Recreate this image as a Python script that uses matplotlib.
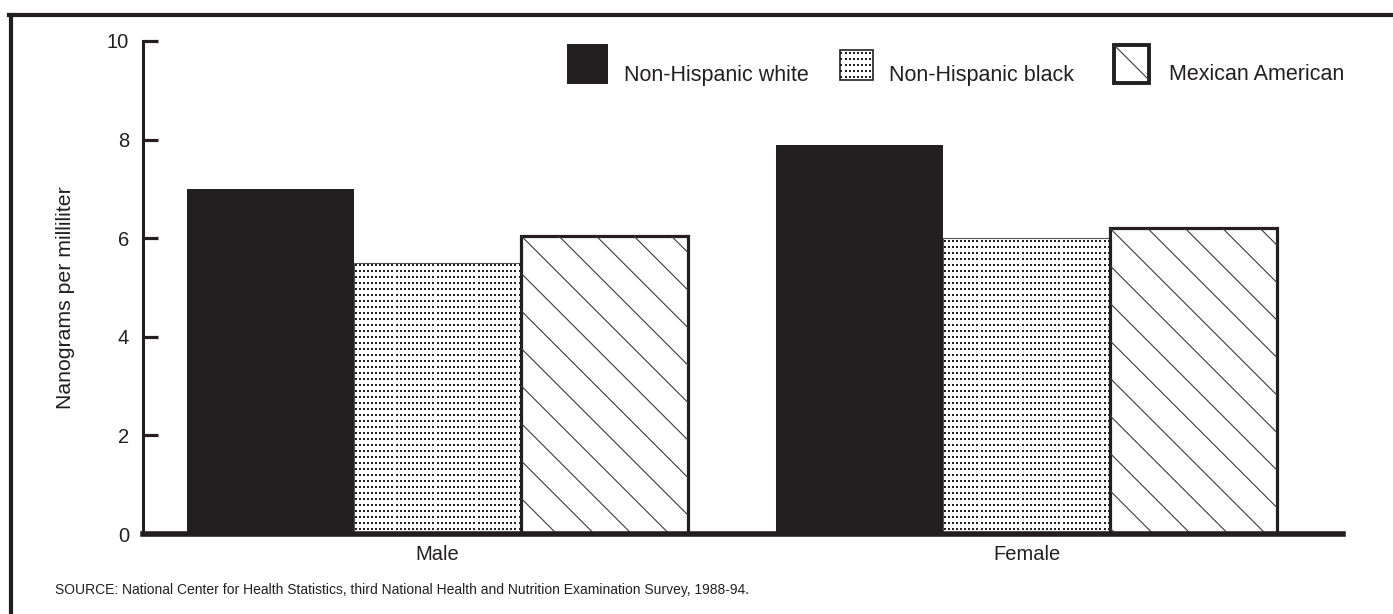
import numpy as np
import matplotlib
matplotlib.use("Agg")
import matplotlib.pyplot as plt
from matplotlib.patches import Rectangle
from matplotlib.collections import LineCollection
from matplotlib.lines import Line2D
from matplotlib.transforms import IdentityTransform

plt.rcParams["font.family"] = ["Liberation Sans", "DejaVu Sans"]

categories = ["Male", "Female"]
series = ["Non-Hispanic white", "Non-Hispanic black", "Mexican American"]
white = [7.0, 7.9]
black = [5.5, 6.0]
mexican = [6.05, 6.2]
yticks = [0, 2, 4, 6, 8, 10]
ylabel = "Nanograms per milliliter"
source = ("SOURCE: National Center for Health Statistics, third National Health "
          "and Nutrition Examination Survey, 1988-94.")

INK = "#231f20"
W, H = 1393, 614


def dot_fill(ax, patch, dx=4.1, dy=6.0, size=2.7, z=2):
    bb = patch.get_window_extent()
    xs = np.arange(bb.x0 + 1.5, bb.x1, dx)
    ys = np.arange(bb.y1 - 2.5, bb.y0, -dy)
    X, Y = np.meshgrid(xs, ys)
    sc = ax.scatter(X.ravel(), Y.ravel(), marker="s", s=size, c=INK,
                    linewidths=0, transform=IdentityTransform(), zorder=z)
    sc.set_clip_path(patch)


def line_fill(ax, patch, step=37.5, z=1.5):
    bb = patch.get_window_extent()
    h = bb.height
    segs = []
    for k in range(-int(h // step) - 1, int(bb.width // step) + 2):
        x = bb.x0 + k * step
        segs.append([(x, bb.y1), (x + h, bb.y0)])
    lc = LineCollection(segs, colors="#3a3a3a", linewidths=0.8,
                        transform=IdentityTransform(), zorder=z)
    ax.add_collection(lc, autolim=False)
    lc.set_clip_path(patch)


fig = plt.figure(figsize=(W / 100, H / 100), dpi=100)
ax = fig.add_axes([143 / W, 1 - 534 / H, 1200 / W, 493 / H])
ax.set_xlim(-0.5, 1.537)
ax.set_ylim(0, 10)
ax.autoscale(False)

x = np.arange(len(categories))
bw = 0.2835
b1 = ax.bar(x - bw, white, bw, color=INK, linewidth=0, zorder=1)
b2 = ax.bar(x, black, bw, color="white", edgecolor="#555555", linewidth=0.8, zorder=1)
b3 = ax.bar(x + bw, mexican, bw, color="white", edgecolor=INK, linewidth=2.3, zorder=1)
for p in b2:
    dot_fill(ax, p)
for p in b3:
    line_fill(ax, p)

for s in ["top", "right"]:
    ax.spines[s].set_visible(False)
ax.spines["left"].set_linewidth(2.2)
ax.spines["left"].set_color(INK)
ax.spines["bottom"].set_linewidth(4)
ax.spines["bottom"].set_color(INK)
ax.spines["bottom"].set_zorder(3)

ax.set_yticks(yticks)
ax.set_yticklabels([str(t) for t in yticks])
ax.tick_params(axis="y", direction="in", length=11, width=2.3, color=INK,
               labelsize=14.5, pad=10, labelcolor=INK)
ax.set_xticks(x)
ax.set_xticklabels(categories)
ax.tick_params(axis="x", length=0, labelsize=14.5, pad=8, labelcolor=INK)
ax.set_ylabel(ylabel, fontsize=15.3, color=INK)
ax.yaxis.set_label_coords(-0.0567, 0.48)

# legend, drawn by hand
def handle_ax(x0, y0, x1, y1):
    a = fig.add_axes([x0 / W, 1 - y1 / H, (x1 - x0) / W, (y1 - y0) / H])
    a.set_xlim(0, 1)
    a.set_ylim(0, 1)
    a.axis("off")
    a.autoscale(False)
    return a

a1 = handle_ax(567, 44, 608, 84)
a1.add_patch(Rectangle((0, 0), 1, 1, color=INK, linewidth=0))
a2 = handle_ax(840, 50, 873, 80)
r2 = Rectangle((0, 0), 1, 1, facecolor="white", edgecolor=INK, linewidth=1.2,
               clip_on=False)
a2.add_patch(r2)
dot_fill(a2, r2)
a3 = handle_ax(1114, 45, 1149, 83)
r3 = Rectangle((0, 0), 1, 1, facecolor="white", edgecolor=INK, linewidth=2.8,
               clip_on=False)
a3.add_patch(r3)
line_fill(a3, r3, step=500)

for tx, label in zip([624, 889, 1169], series):
    fig.text(tx / W, 1 - 75 / H, label, fontsize=15.5, color=INK,
             ha="left", va="center")

fig.text(55 / W, 1 - 590 / H, source, fontsize=10, color=INK,
         ha="left", va="center")

# outer frame
fig.add_artist(Line2D([10.5 / W, 10.5 / W], [0, 1 - 15 / H], color=INK,
                      linewidth=3, transform=fig.transFigure))
fig.add_artist(Line2D([9 / W, 1], [1 - 15 / H, 1 - 15 / H], color=INK,
                      linewidth=3, transform=fig.transFigure))

fig.savefig("out.png", dpi=100)
